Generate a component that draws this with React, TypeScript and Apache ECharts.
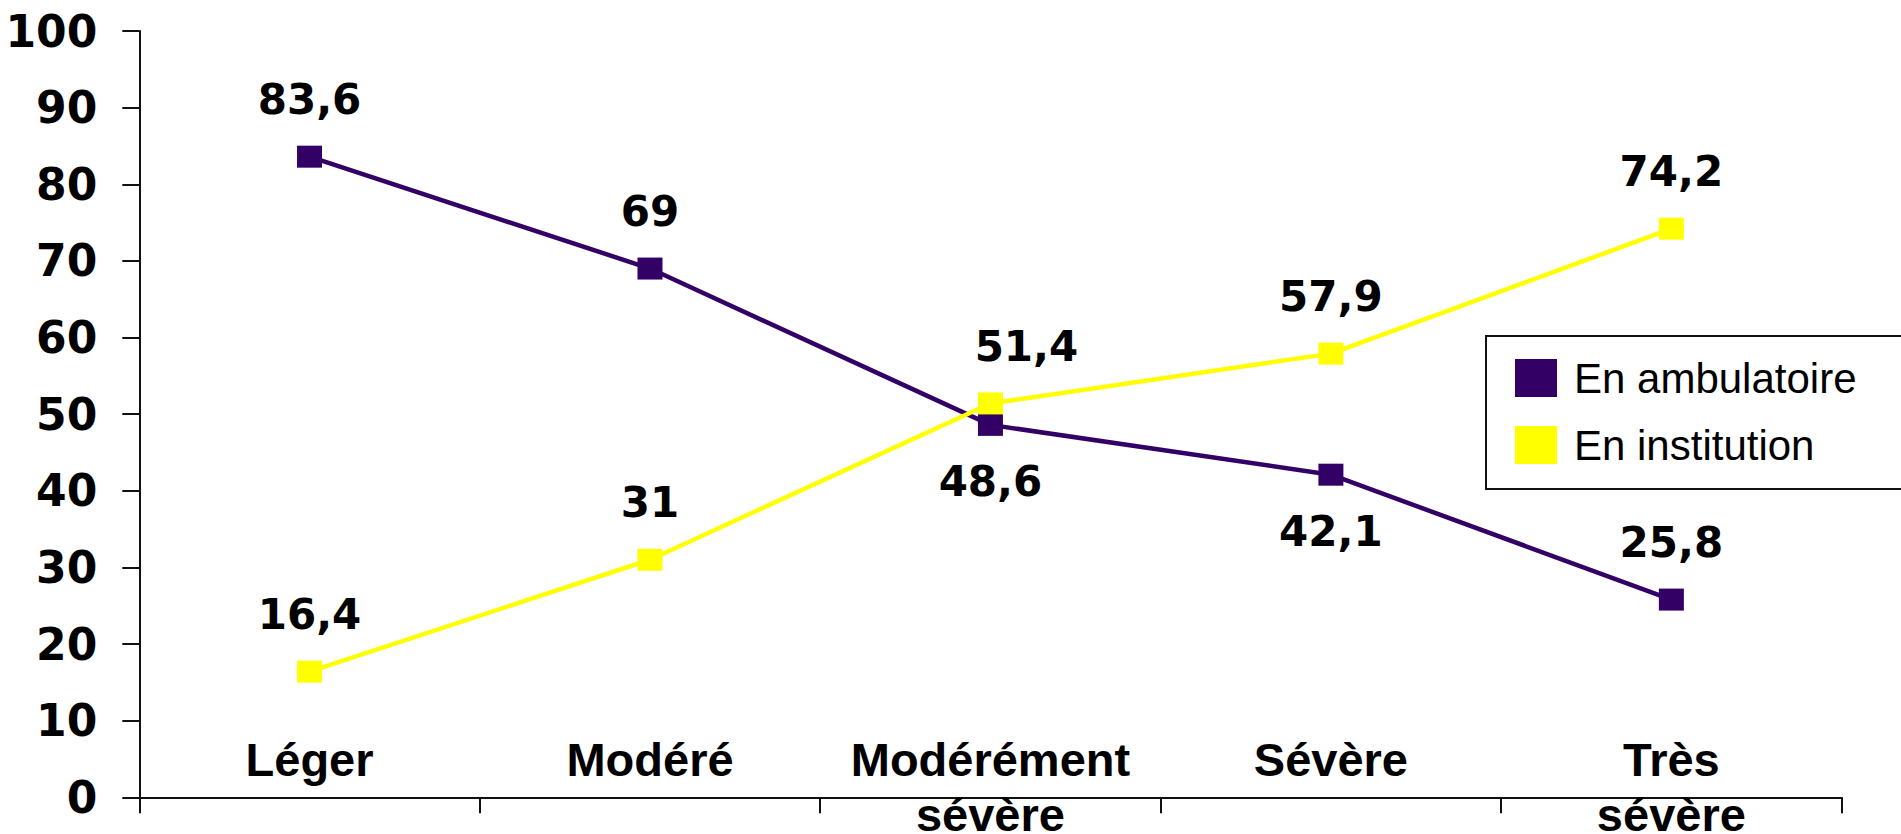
import React, { useEffect, useRef } from "react";
import * as echarts from "echarts";

const categories = ["Léger", "Modéré", "Modérément\nsévère", "Sévère", "Très\nsévère"];
const ambulatoire = [83.6, 69, 48.6, 42.1, 25.8];
const institution = [16.4, 31, 51.4, 57.9, 74.2];
const seriesNames = ["En ambulatoire", "En institution"];
const ambulatoireLabelPos = ["top", "top", "bottom", "bottom", "top"];
const institutionLabelPos = ["top", "top", "top", "top", "top"];

const PURPLE = "#330066";
const YELLOW = "#FFFF00";

const fmt = (v: number) => String(v).replace(".", ",");

export default function App() {
  const ref = useRef<HTMLDivElement>(null);
  useEffect(() => {
    if (!ref.current) return;
    const chart = echarts.init(ref.current, undefined, { renderer: "svg" });
    const labelBase = {
      show: true,
      distance: 25,
      fontFamily: "'DejaVu Sans', sans-serif",
      fontWeight: "bold" as const,
      fontSize: 42,
      color: "#000",
      formatter: (p: any) => fmt(p.value),
    };
    chart.setOption({
      animation: false,
      backgroundColor: "#ffffff",
      grid: {
        left: 139.3,
        right: 59.4,
        top: 31,
        bottom: 36.7,
        containLabel: false,
        outerBoundsMode: "none",
      },
      legend: {
        orient: "vertical",
        left: 1486,
        top: 336,
        padding: [21, 60, 23, 29],
        itemWidth: 42,
        itemHeight: 38,
        itemGap: 25,
        borderColor: "#111",
        borderWidth: 2,
        backgroundColor: "#fff",
        textStyle: {
          fontFamily: "'Liberation Sans', Arial, sans-serif",
          fontSize: 42,
          lineHeight: 38,
          color: "#000",
          padding: [0, 0, 0, 12],
        },
        data: [
          { name: seriesNames[0], icon: "rect", itemStyle: { color: PURPLE } },
          { name: seriesNames[1], icon: "rect", itemStyle: { color: YELLOW } },
        ],
      },
      xAxis: {
        type: "category",
        data: categories,
        boundaryGap: true,
        axisLine: { show: true, lineStyle: { color: "#111", width: 2 } },
        axisTick: { show: true, length: 16, inside: false, lineStyle: { color: "#111", width: 2 } },
        axisLabel: {
          interval: 0,
          margin: -65.6,
          fontFamily: "'Liberation Sans', Arial, sans-serif",
          fontWeight: "bold",
          fontSize: 47,
          lineHeight: 55,
          color: "#000",
        },
        splitLine: { show: false },
      },
      yAxis: {
        type: "value",
        min: 0,
        max: 100,
        interval: 10,
        axisLine: { show: true, lineStyle: { color: "#111", width: 2 } },
        axisTick: { show: true, length: 17, inside: false, lineStyle: { color: "#111", width: 2 } },
        axisLabel: {
          margin: 42,
          fontFamily: "'DejaVu Sans', sans-serif",
          fontWeight: "bold",
          fontSize: 44,
          color: "#000",
        },
        splitLine: { show: false },
      },
      series: [
        {
          name: seriesNames[0],
          type: "line",
          data: ambulatoire.map((v, i) => ({
            value: v,
            label: { position: ambulatoireLabelPos[i] },
          })),
          symbol: "rect",
          symbolSize: [25, 22],
          itemStyle: { color: PURPLE },
          lineStyle: { color: PURPLE, width: 4.5 },
          label: labelBase,
          z: 2,
        },
        {
          name: seriesNames[1],
          type: "line",
          data: institution.map((v, i) => ({
            value: v,
            label: {
              position: institutionLabelPos[i],
              offset: i === 2 ? [36, 0] : [0, 0],
            },
          })),
          symbol: "rect",
          symbolSize: [25, 22],
          itemStyle: { color: YELLOW },
          lineStyle: { color: YELLOW, width: 4.5 },
          label: labelBase,
          z: 3,
        },
      ],
    });
    return () => chart.dispose();
  }, []);
  return (
    <div
      ref={ref}
      style={{ position: "absolute", left: 0, top: 0, width: 1901, height: 834, background: "#fff" }}
    />
  );
}
